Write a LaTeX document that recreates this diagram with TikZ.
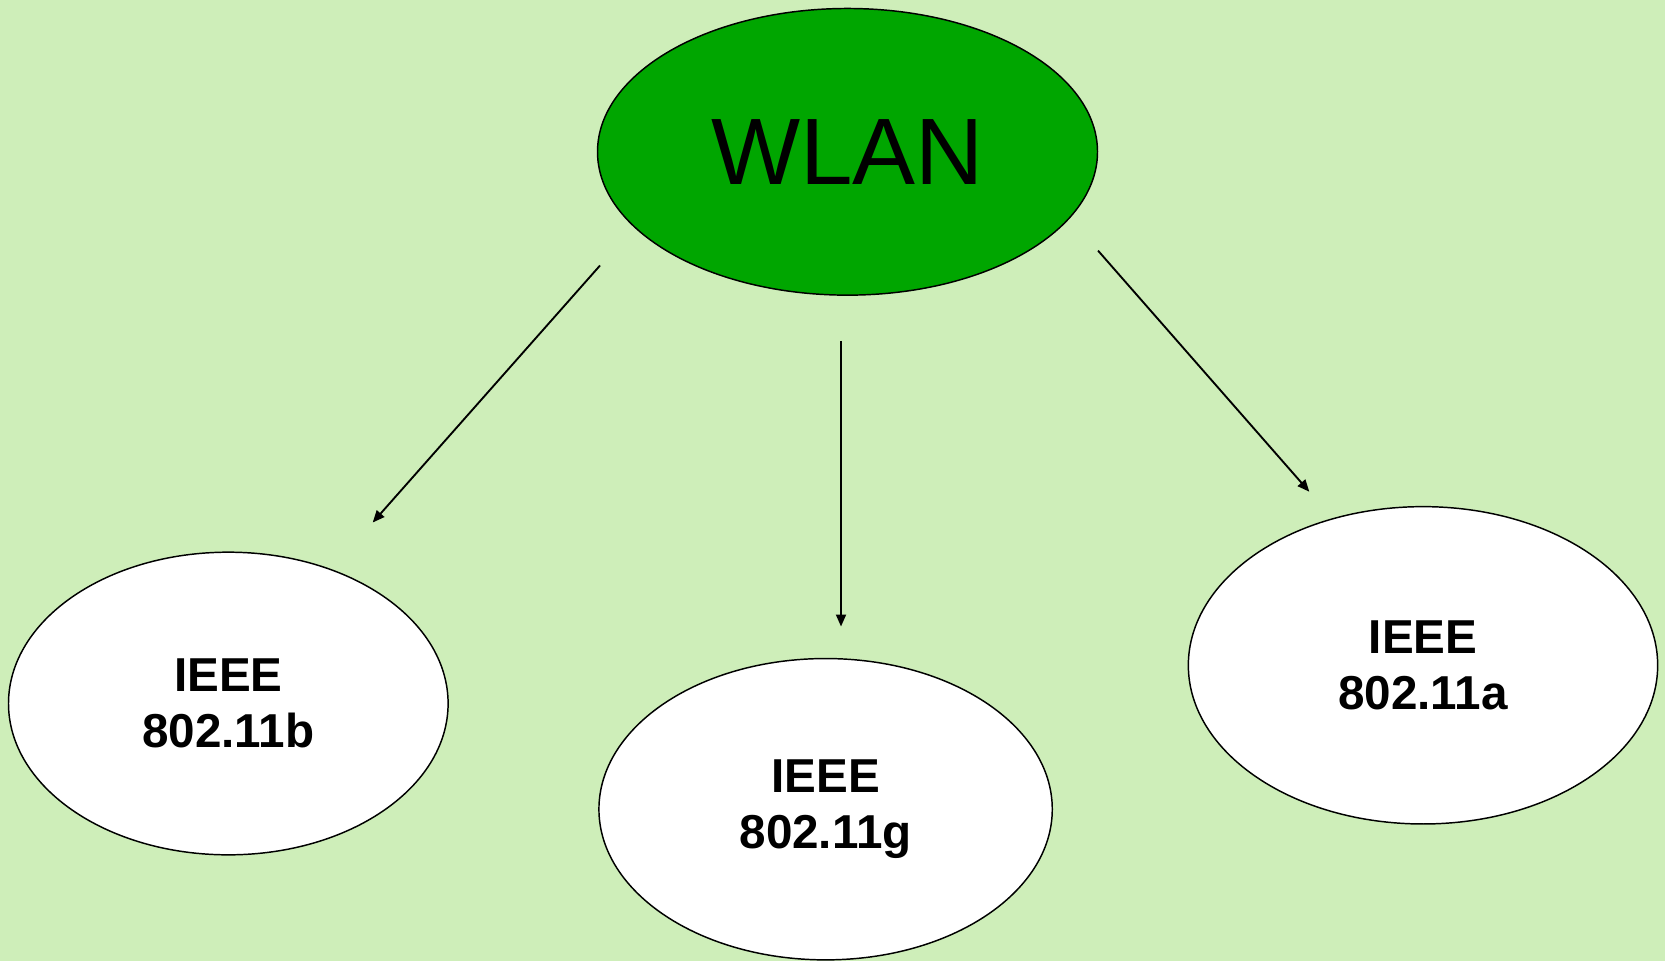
\documentclass[tikz,border=0pt]{standalone}
\usepackage{fontspec}
\setmainfont{Liberation Sans}
\usetikzlibrary{shapes.geometric,arrows.meta}
\definecolor{bgGreen}{HTML}{CEEEB9}
\definecolor{rootGreen}{HTML}{00A600}
\tikzset{
  oval/.style={ellipse, draw=black, line width=1.1pt, inner sep=0pt, align=center},
  leaf/.style={oval, fill=white, font=\fontsize{35.7}{42.5}\selectfont\bfseries},
  link/.style={line width=1.4pt, -{Triangle[length=9pt,width=7.5pt]}}
}
\begin{document}
\begin{tikzpicture}[x=0.75pt,y=-0.75pt]
  % canvas
  \fill[bgGreen] (0,0) rectangle (1665,961);
  \useasboundingbox (0,0) rectangle (1665,961);

  % root and leaves
  \node[oval, fill=rootGreen, minimum width=375pt, minimum height=215pt,
        font=\fontsize{70.8}{80}\selectfont] (wlan) at (847.5,151.8) {WLAN};
  \node[leaf, minimum width=329.7pt, minimum height=227pt] (b) at (228.3,703.5) {IEEE\\802.11b};
  \node[leaf, minimum width=340pt, minimum height=226pt] (g) at (825.6,809.2) {IEEE\\802.11g};
  \node[leaf, minimum width=352pt, minimum height=238pt] (a) at (1423,665.3) {IEEE\\802.11a};

  % arrow end points
  \coordinate (bs) at (600,265.5);
  \coordinate (be) at (372.7,522.5);
  \coordinate (gs) at (841,340.9);
  \coordinate (ge) at (841,626.5);
  \coordinate (as) at (1098,250.6);
  \coordinate (ae) at (1309.3,491.7);

  \draw[link] (bs) -- (be);
  \draw[link] (gs) -- (ge);
  \draw[link] (as) -- (ae);
\end{tikzpicture}
\end{document}
